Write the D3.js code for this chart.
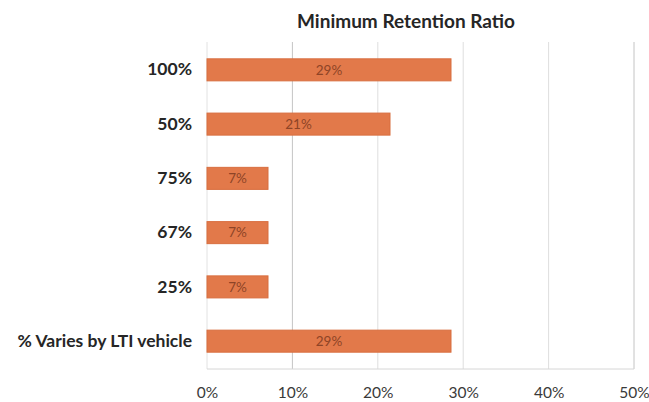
<!DOCTYPE html>
<html>
<head>
<meta charset="utf-8">
<script src="https://cdn.jsdelivr.net/npm/d3@7/dist/d3.min.js"></script>
<style>
  html, body { margin: 0; padding: 0; background: #fff; }
  svg { display: block; }
  text { font-family: "Lato", "Open Sans", sans-serif; }
</style>
</head>
<body>
<svg id="chart" width="649" height="402"></svg>
<script>
// Share of responses by minimum retention ratio (14 responses)
const categories = ["100%", "50%", "75%", "67%", "25%", "% Varies by LTI vehicle"];
const shares = [4 / 14, 3 / 14, 1 / 14, 1 / 14, 1 / 14, 4 / 14];
const tickValues = [0, 0.1, 0.2, 0.3, 0.4, 0.5];

const width = 649, height = 402;
const margin = { top: 42, right: 15, bottom: 33, left: 207 };

const svg = d3.select("#chart");

const x = d3.scaleLinear()
  .domain([0, 0.5])
  .range([margin.left, width - margin.right]);

const y = d3.scaleBand()
  .domain(categories)
  .range([margin.top, height - margin.bottom])
  .paddingInner(0.594)
  .paddingOuter(0.31);

const pct = d3.format(".0%");

// vertical gridlines
svg.append("g")
  .selectAll("line")
  .data(tickValues.slice(1))
  .join("line")
  .attr("x1", d => x(d)).attr("x2", d => x(d))
  .attr("y1", margin.top).attr("y2", height - margin.bottom)
  .attr("stroke", (d, i) => (i === 0 || i === tickValues.length - 2) ? "#c4c4c4" : "#dedede")
  .attr("stroke-width", 1);

// baseline axes
svg.append("line")
  .attr("x1", x(0)).attr("x2", x(0))
  .attr("y1", margin.top).attr("y2", height - margin.bottom)
  .attr("stroke", "#e2e2e2");
svg.append("line")
  .attr("x1", x(0)).attr("x2", x(0.5))
  .attr("y1", height - margin.bottom).attr("y2", height - margin.bottom)
  .attr("stroke", "#d6d6d6");

// x axis tick labels
const xAxis = d3.axisBottom(x)
  .tickValues(tickValues)
  .tickFormat(pct)
  .tickSize(0)
  .tickPadding(18);
const gx = svg.append("g")
  .attr("transform", `translate(0,${height - margin.bottom})`)
  .call(xAxis);
gx.select(".domain").remove();
gx.selectAll("text")
  .style("font-family", "Lato, 'Open Sans', sans-serif")
  .style("font-size", "15.5px")
  .attr("fill", "#3a3a3a");

// y axis category labels
const yAxis = d3.axisLeft(y).tickSize(0).tickPadding(15);
const gy = svg.append("g")
  .attr("transform", `translate(${margin.left},0)`)
  .call(yAxis);
gy.select(".domain").remove();
gy.selectAll("text")
  .style("font-family", "Lato, 'Open Sans', sans-serif")
  .style("font-size", "17.5px")
  .style("font-weight", "bold")
  .attr("fill", "#262626");

// bars
svg.append("g")
  .selectAll("rect")
  .data(categories)
  .join("rect")
  .attr("x", x(0))
  .attr("y", d => y(d))
  .attr("width", (d, i) => x(shares[i]) - x(0))
  .attr("height", y.bandwidth())
  .attr("fill", "#e2794a")
  .attr("stroke", "#d86e3f")
  .attr("stroke-width", 1);

// value labels
svg.append("g")
  .selectAll("text")
  .data(categories)
  .join("text")
  .attr("x", (d, i) => (x(0) + x(shares[i])) / 2)
  .attr("y", d => y(d) + y.bandwidth() / 2)
  .attr("dy", "0.36em")
  .attr("text-anchor", "middle")
  .style("font-size", "13.5px")
  .attr("fill", "#8e4426")
  .text((d, i) => pct(shares[i]));

// title
svg.append("text")
  .attr("x", 406)
  .attr("y", 28)
  .attr("text-anchor", "middle")
  .style("font-size", "19px")
  .style("font-weight", "bold")
  .attr("fill", "#262626")
  .text("Minimum Retention Ratio");
</script>
</body>
</html>
